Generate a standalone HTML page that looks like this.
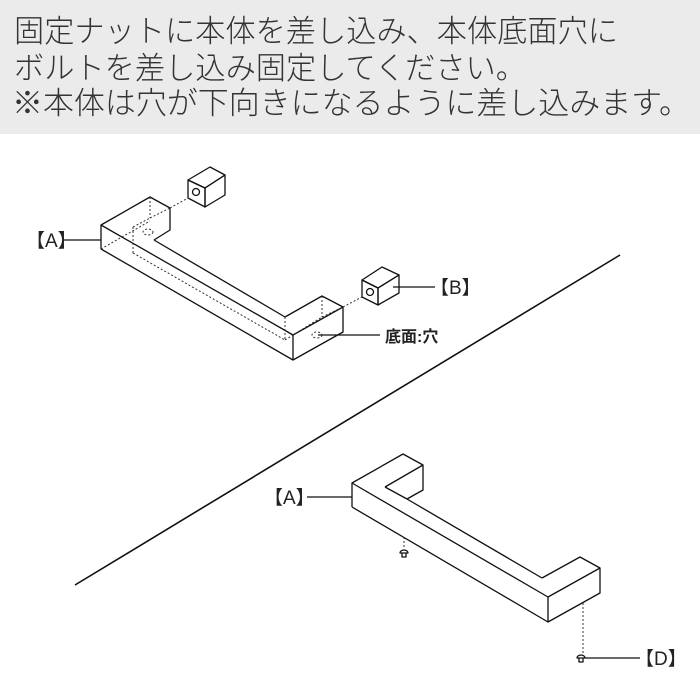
<!DOCTYPE html>
<html><head><meta charset="utf-8"><style>
html,body{margin:0;padding:0;background:#fff;}
svg{display:block;}
text{font-family:"Liberation Sans","Noto Sans CJK JP",sans-serif;fill:#222;}
</style></head><body>
<svg width="700" height="700" viewBox="0 0 700 700" xmlns="http://www.w3.org/2000/svg">
<rect x="0" y="0" width="700" height="134" fill="#ebebeb"/>
<g style="font-weight:300">
<text x="14" y="42" font-size="31" textLength="604" lengthAdjust="spacingAndGlyphs" style="fill:#333">固定ナットに本体を差し込み、本体底面穴に</text>
<text x="14" y="79" font-size="31" textLength="512" lengthAdjust="spacingAndGlyphs" style="fill:#333">ボルトを差し込み固定してください。</text>
<text x="12" y="114" font-size="31" textLength="678" lengthAdjust="spacingAndGlyphs" style="fill:#333">※本体は穴が下向きになるように差し込みます。</text>
</g>

<g fill="none" stroke="#111" stroke-width="1.3" stroke-linejoin="round">
<polyline points="101,249 101,225 150,197 170,208 170,230 154,240"/>
<line x1="101" y1="225" x2="293" y2="335"/>
<line x1="101" y1="249" x2="293" y2="360"/>
<line x1="154" y1="240" x2="285" y2="317"/>
<polyline points="285,317 322,296 343,307 343,332 293,360 293,335 343,307"/>
<polygon points="188,180 210,167 225,175 205,188"/>
<polygon points="188,180 205,188 205,207 188,198"/>
<polygon points="205,188 225,175 225,195 205,207"/>
<circle cx="196" cy="192" r="3.5"/>
<polygon points="362,280 382,267 399,275 378,288"/>
<polygon points="362,280 378,288 378,305 362,297"/>
<polygon points="378,288 399,275 399,293 378,305"/>
<circle cx="370" cy="292" r="3.5"/>
<line x1="63" y1="240" x2="101" y2="240"/>
<line x1="393" y1="287" x2="435" y2="287"/>
<line x1="318" y1="335" x2="380" y2="335"/>
<line x1="75" y1="585" x2="620" y2="255" stroke-width="1.6"/>
<polyline points="352,507 352,483 403,454 423,465 423,490 407,499"/>
<line x1="385" y1="487" x2="423" y2="465"/>
<line x1="385" y1="487" x2="407" y2="499"/>
<line x1="407" y1="499" x2="542" y2="578"/>
<polyline points="542,578 580,557 600,568 600,593 548,622 548,597 600,568"/>
<line x1="352" y1="483" x2="548" y2="597"/>
<line x1="352" y1="507" x2="548" y2="622"/>
<line x1="307" y1="497" x2="352" y2="497"/>
<line x1="585" y1="658" x2="640" y2="658"/>
<path d="M400,553 a4,3 0 0 1 8,0 z M402,553 v4 h4 v-4"/>
<path d="M577,658 a4,3 0 0 1 8,0 z M579,658 v4 h4 v-4"/>
</g>
<g fill="none" stroke="#333" stroke-width="1" stroke-dasharray="2,2">
<line x1="150" y1="197" x2="150" y2="218"/>
<line x1="150" y1="218" x2="170" y2="208"/>
<line x1="133" y1="227" x2="150" y2="218"/>
<line x1="133" y1="227" x2="133" y2="253"/>
<line x1="133" y1="253" x2="285" y2="340"/>
<line x1="285" y1="317" x2="285" y2="340"/>
<line x1="101" y1="249" x2="150" y2="221"/>
<line x1="322" y1="296" x2="322" y2="317"/>
<line x1="322" y1="317" x2="343" y2="307"/>
<line x1="285" y1="340" x2="322" y2="317"/>
<line x1="170" y1="208" x2="188" y2="198"/>
<line x1="343" y1="307" x2="362" y2="297"/>
<ellipse cx="148" cy="232" rx="5" ry="3"/>
<ellipse cx="317" cy="335" rx="5" ry="3"/>
<line x1="404" y1="537" x2="404" y2="549"/>
<line x1="583" y1="603" x2="583" y2="653"/>
</g>
<text x="26" y="247" font-size="19">【A】</text>
<text x="430" y="294" font-size="19">【B】</text>
<text x="385" y="342" font-size="16" font-weight="bold">底面:穴</text>
<text x="264" y="504" font-size="19">【A】</text>
<text x="635" y="665" font-size="19">【D】</text>
</svg>
</body></html>
